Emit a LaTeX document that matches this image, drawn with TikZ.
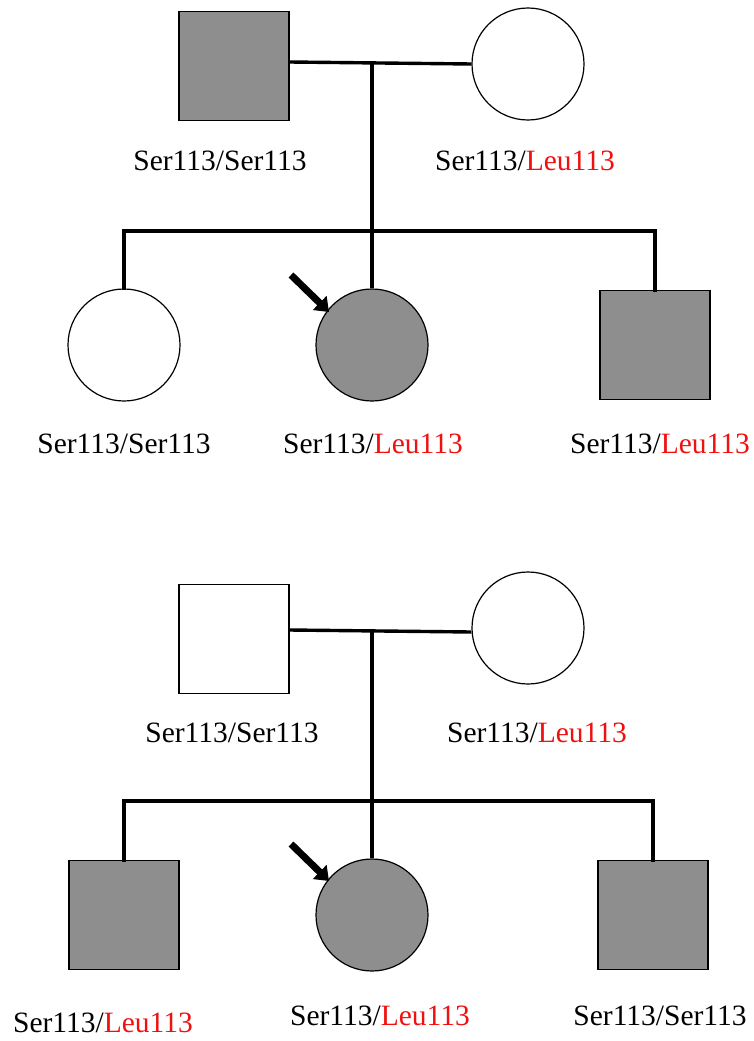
\documentclass[tikz,border=0pt]{standalone}
\usepackage{fontspec}
\setmainfont{Liberation Serif}
\usetikzlibrary{arrows.meta}
\definecolor{affected}{HTML}{8E8E8E}
\definecolor{allele}{HTML}{F01010}
\newcommand{\ser}{Ser113}
\newcommand{\leu}{\textcolor{allele}{Leu113}}
\begin{document}
\begin{tikzpicture}[x=1pt,y=-1pt,
  male/.style={draw, rectangle, minimum width=110pt, minimum height=109pt, inner sep=0pt, line width=1.3pt},
  female/.style={draw, circle, minimum size=112pt, inner sep=0pt, line width=1.2pt},
  aff/.style={fill=affected},
  link/.style={line width=3.4pt},
  lbl/.style={font=\fontsize{29.5}{31}\selectfont, inner sep=0pt, anchor=base},
  proband/.style={line width=7pt, -{Triangle[width=19pt,length=13pt]}}]
\useasboundingbox (0,0) rectangle (754,1041);

% ---------- first family ----------
\node[male, aff] (f1) at (234,66) {};
\node[female] (m1) at (528,64) {};
\node[lbl] (lf1) at (220,170) {\ser/\ser};
\node[lbl] (lm1) at (525,170) {\ser/\leu};

\node[female] (c11) at (124,345) {};
\node[female, aff] (c12) at (372,345) {};
\node[male, aff] (c13) at (655,345) {};
\node[lbl] (lc11) at (124,453) {\ser/\ser};
\node[lbl] (lc12) at (373,453) {\ser/\leu};
\node[lbl] (lc13) at (660,453) {\ser/\leu};

\draw[link] ([yshift=4pt]f1.east) -- (m1.west);
\coordinate (d1) at (372,63);
\coordinate (s1) at (372,231);
\draw[link] (d1) -- (s1);
\draw[link, line cap=rect] (c11.north) |- (s1) -| (c13.north);
\draw[link] (s1) -- (c12.north);
\coordinate (p1a) at (291,275);
\coordinate (p1b) at (329,312);
\draw[proband] (p1a) -- (p1b);

% ---------- second family ----------
\node[male] (f2) at (234,639) {};
\node[female] (m2) at (528,628) {};
\node[lbl] (lf2) at (232,742) {\ser/\ser};
\node[lbl] (lm2) at (537,742) {\ser/\leu};

\node[male, aff] (c21) at (124,915) {};
\node[female, aff] (c22) at (372,915) {};
\node[male, aff] (c23) at (653,915) {};
\node[lbl] (lc21) at (103,1032) {\ser/\leu};
\node[lbl] (lc22) at (380,1025) {\ser/\leu};
\node[lbl] (lc23) at (660,1025) {\ser/\ser};

\draw[link] ([yshift=9pt]f2.east) -- ([yshift=-4pt]m2.west);
\coordinate (d2) at (372,632);
\coordinate (s2) at (372,801);
\draw[link] (d2) -- (s2);
\draw[link, line cap=rect] (c21.north) |- (s2) -| (c23.north);
\draw[link] (s2) -- (c22.north);
\coordinate (p2a) at (291,844);
\coordinate (p2b) at (329,881);
\draw[proband] (p2a) -- (p2b);
\end{tikzpicture}
\end{document}
